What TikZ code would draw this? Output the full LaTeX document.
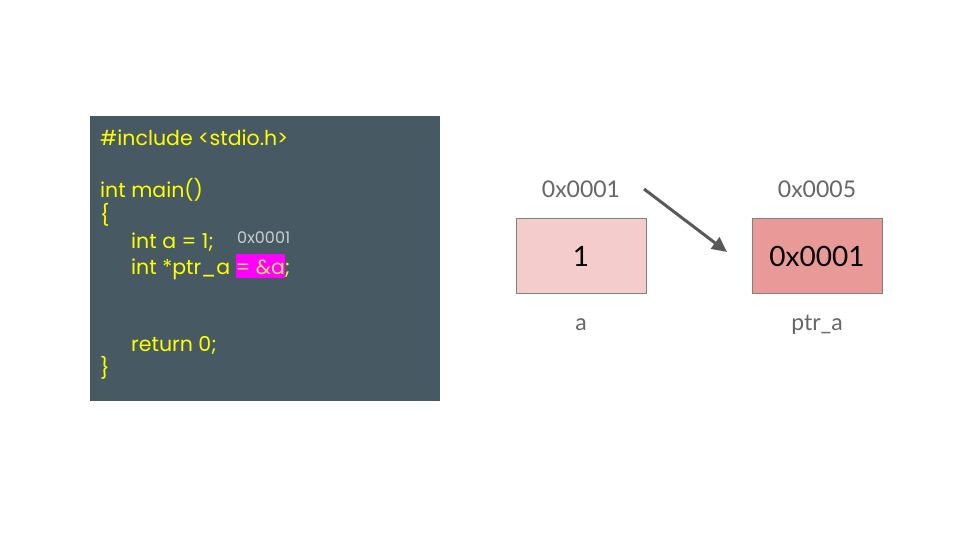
\documentclass[tikz,border=0pt]{standalone}
\usepackage{fontspec}
\setmainfont{Lato}
\newfontfamily\codefont{Poppins}
\usetikzlibrary{positioning,arrows.meta}
\definecolor{codebg}{HTML}{475A64}
\definecolor{codefg}{HTML}{FFFF00}
\definecolor{hlbg}{HTML}{FF00FF}
\definecolor{hlfg}{HTML}{FFD966}
\definecolor{cellA}{HTML}{F4CCCC}
\definecolor{cellB}{HTML}{EA9999}
\definecolor{labelgray}{HTML}{666666}

\begin{document}
\begin{tikzpicture}[x=1pt, y=-1pt,
    codeline/.style={anchor=base west, inner sep=0pt, text=codefg, font=\codefont\fontsize{20.5}{22}\selectfont},
    cell/.style={draw=gray, line width=0.8pt, minimum width=130pt, minimum height=75pt, font=\fontsize{28}{30}\selectfont},
    addr/.style={text=labelgray, font=\fontsize{23}{26}\selectfont},
    >={Triangle[length=15pt, width=14pt]}]
        \useasboundingbox (0,0) rectangle (960,540);
        % source code panel
        \node[fill=codebg, minimum width=350pt, minimum height=285pt, inner sep=0pt, anchor=north west] (code) at (90,116) {};
        \node[codeline] (l1) at (100,146) {\#include <stdio.h>};
        \node[codeline] (l2) at (100,197) {int main()};
        \node[codeline] (l3) at (100,222) {\{};
        \node[codeline] (l4) at (131,248) {int a = 1;};
        \node[codeline] (l5) at (131,274) {int *ptr\_a {\setlength{\fboxsep}{0pt}\colorbox{hlbg}{\rule[-4pt]{0pt}{24pt}\color{hlfg}= \&a}};};
        \node[codeline] (l6) at (131,351) {return 0;};
        \node[codeline] (l7) at (100,375) {\}};
        \node[anchor=base west, inner sep=0pt, text=black!20, font=\codefont\fontsize{16}{18}\selectfont] (note) at (237,243) {0x0001};
        % memory cells
        \node[cell, fill=cellA] (a) at (581,256) {1};
        \node[cell, fill=cellB] (ptr) at (817,256) {0x0001};
        \node[addr] (addra) at (581,189) {0x0001};
        \node[addr] (addrptr) at (817,189) {0x0005};
        \node[addr] (namea) at (581,325) {a};
        \node[addr] (nameptr) at (817,325) {ptr\_a};
        \coordinate (from) at (644,189);
        \coordinate (to) at (727,252);
        \draw[->, black!65, line width=3pt] (from) -- (to);
      \end{tikzpicture}
\end{document}
